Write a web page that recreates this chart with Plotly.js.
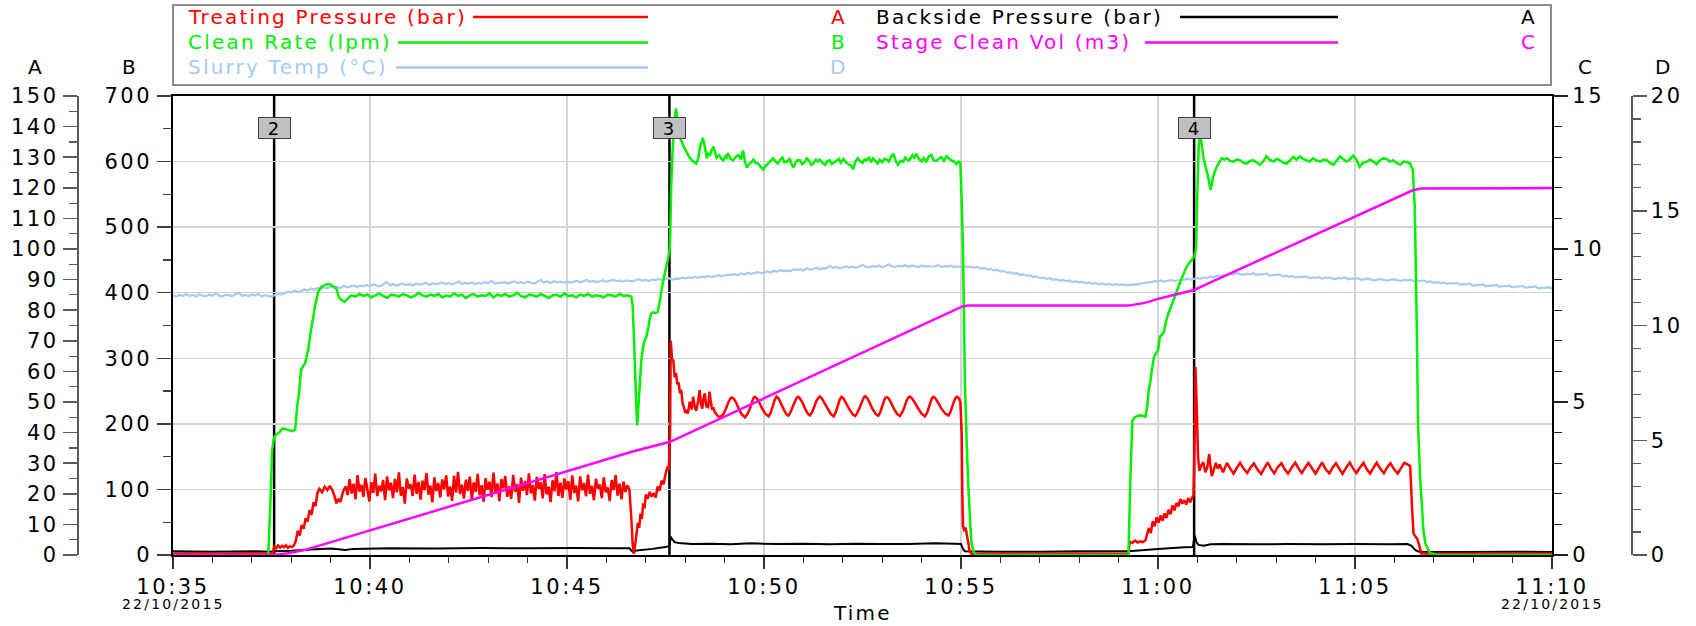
<!DOCTYPE html>
<html>
<head>
<meta charset="utf-8">
<script src="https://cdn.plot.ly/plotly-3.0.1.min.js"></script>
<style>
  html, body { margin: 0; padding: 0; background: #ffffff; }
  #chart { width: 1696px; height: 626px; }
  .xtick text, .ytick text, .y2tick text, .y3tick text, .y4tick text { letter-spacing: 2.6px; }
  .annotation-text { letter-spacing: 2.2px; }
</style>
</head>
<body>
<div id="chart"></div>
<script>
// ---- Time axis (seconds after 10:35:00, 22/10/2015) ----
const timeTickLabels = ['10:35', '10:40', '10:45', '10:50', '10:55', '11:00', '11:05', '11:10'];
const timeTickMinutes = [0, 5, 10, 15, 20, 25, 30, 35];
const logDate = '22/10/2015';

// Stage change markers: [seconds, stage label]
const stageMarkers = [[154, '2'], [756, '3'], [1555, '4']];

// Treating Pressure (bar) -> axis A   [seconds, bar]
const treatingPressure = [
  [0,0.5],[40,0.6],[80,0.5],[120,0.6],[152,0.5],
  [154,2.9],[157,2.2],[160,3.1],[163,2.4],[166,3.0],[169,2.5],[172,3.2],[175,2.3],[178,2.9],[181,2.6],[184,3.1],
  [187,4.6],[190,7.9],[193,6.4],[196,9.8],[199,8.6],[202,12.0],[205,10.9],[208,14.6],[211,13.1],[214,17.2],[217,16.0],
  [220,20.4],[223,21.6],[227,20.5],[231,22.3],[235,21.2],[239,22.6],[243,21.0],[246,19.2],[249,16.9],[252,18.4],[255,17.3],[259,20.8],
  [263,22.4],[266,19.6],[269,24.8],[272,20.1],[275,23.3],[278,18.2],[281,26.1],[284,20.7],[287,22.9],[290,19.0],
  [293,25.2],[296,21.4],[299,17.5],[302,23.8],[305,20.3],[308,26.6],[311,19.2],[314,22.6],[317,20.8],[320,24.5],
  [323,17.9],[326,25.7],[329,21.1],[332,23.6],[335,18.6],[338,24.9],[341,20.5],[344,27.0],[347,19.4],[350,22.2],
  [353,16.8],[356,25.0],[359,21.7],[362,23.1],[365,19.3],[368,26.3],[371,20.0],[374,23.9],[377,18.1],[380,24.3],
  [383,21.2],[386,26.8],[389,19.7],[392,22.7],[395,17.2],[398,25.4],[401,20.9],[404,23.5],[407,18.8],[410,24.7],
  [413,21.5],[416,26.0],[419,19.1],[422,22.4],[425,17.7],[428,25.9],[431,20.4],[434,27.2],[437,19.9],[440,23.0],
  [443,18.4],[446,24.6],[449,21.0],[452,25.6],[455,18.0],[458,23.7],[461,20.6],[464,26.5],[467,19.5],[470,22.8],
  [473,17.4],[476,25.1],[479,21.3],[482,24.0],[485,18.9],[488,26.9],[491,20.2],[494,23.4],[497,17.6],[500,24.8],
  [503,21.8],[506,25.8],[509,19.0],[512,22.5],[515,18.3],[518,26.2],[521,20.7],[524,23.2],[527,17.0],[530,25.3],
  [533,21.0],[536,24.2],[539,19.6],[542,26.7],[545,20.1],[548,22.9],[551,17.8],[554,25.5],[557,21.6],[560,23.8],
  [563,18.5],[566,26.4],[569,19.8],[572,22.3],[575,17.3],[578,24.4],[581,20.8],[584,27.1],[587,19.3],[590,23.6],
  [593,18.7],[596,25.0],[599,21.4],[602,24.1],[605,18.0],[608,26.0],[611,20.3],[614,22.7],[617,17.5],[620,25.7],
  [623,21.1],[626,23.5],[629,19.2],[632,26.3],[635,20.0],[638,22.6],[641,17.9],[644,24.9],[647,21.7],[650,23.0],
  [653,18.6],[656,25.4],[659,20.5],[662,22.1],[665,17.6],[668,24.5],[671,21.2],[674,26.1],[677,19.4],[680,23.3],
  [683,18.2],[686,24.0],[689,20.6],[692,22.8],[695,21.5],
  [698,12.0],[700,3.5],[702,0.4],[704,3.8],[706,7.2],[708,10.6],[710,8.9],[712,13.5],[714,11.8],[716,16.9],[718,15.2],
  [720,19.8],[723,18.4],[726,20.6],[729,19.1],[732,20.2],[735,18.8],[738,22.4],[741,21.0],[744,24.3],[747,23.1],
  [750,26.5],[753,28.9],[755,27.6],[757,40.0],[758,70.0],[760,64.0],[762,63.5],[764,58.0],[766,59.5],[768,55.8],
  [770,56.4],[772,52.8],[774,54.0],[776,49.5],[778,48.3],[780,46.5],[782,47.0],[784,46.2],[787,50.1],[790,47.6],
  [792,51.7],[795,48.0],[797,47.2],[800,50.6],[802,53.9],[804,49.4],[806,47.8],[808,51.5],[810,52.8],[812,48.6],
  [815,48.3],[817,53.4],[819,50.2],[821,47.5],[823,48.2],[825,46.6],[827,46.2],[830,45.3],
  [834,45.2],[838,46.0],[842,47.8],[846,50.0],[849,51.2],[851,51.5],[854,51.1],[858,49.6],[862,47.6],[866,46.0],[871,45.0],
  [875,46.1],[879,48.1],[882,50.2],[884,51.3],[886,51.7],[889,51.2],[893,49.8],[897,47.9],[902,46.2],[907,45.3],
  [910,46.4],[913,48.4],[916,50.5],[918,51.4],[919,51.8],[922,51.2],[926,49.5],[930,47.6],[934,46.0],[937,45.5],
  [940,46.5],[944,48.6],[948,50.6],[950,51.4],[952,51.7],[955,51.1],[959,49.6],[963,47.6],[967,46.1],[970,45.6],
  [973,46.6],[977,48.7],[980,50.5],[983,51.4],[985,51.8],[988,51.2],[992,49.7],[997,47.8],[1002,46.0],[1006,45.3],
  [1009,46.5],[1012,48.5],[1015,50.6],[1017,51.4],[1018,51.7],[1021,51.2],[1025,49.6],[1030,47.6],[1035,46.0],[1039,45.4],
  [1042,46.4],[1046,48.3],[1050,50.5],[1052,51.5],[1054,51.9],[1057,51.3],[1061,49.7],[1065,47.8],[1070,46.1],[1074,45.5],
  [1077,46.6],[1080,48.6],[1083,50.6],[1085,51.4],[1087,51.6],[1090,51.1],[1094,49.6],[1098,47.7],[1103,46.0],[1107,45.4],
  [1110,46.4],[1114,48.4],[1117,50.4],[1120,51.5],[1122,51.8],[1125,51.3],[1130,49.7],[1135,47.8],[1140,46.2],[1145,45.3],
  [1148,46.3],[1151,48.2],[1154,50.3],[1156,51.3],[1158,51.7],[1161,51.2],[1165,49.8],[1170,47.9],[1176,46.2],[1181,45.6],
  [1184,46.7],[1187,48.7],[1190,50.6],[1192,51.4],[1194,51.7],[1197,51.2],[1199,50.0],
  [1201,40.0],[1202,20.0],[1203,9.5],[1205,7.8],[1207,9.0],[1209,6.5],[1211,4.2],[1213,1.2],[1216,0.4],
  [1260,0.5],[1320,0.4],[1380,0.5],[1440,0.4],[1455,0.5],
  [1457,4.4],[1461,4.0],[1465,4.7],[1469,4.1],[1473,4.5],[1477,4.2],[1481,4.8],[1483,6.5],[1486,8.8],[1489,7.2],
  [1492,11.0],[1495,9.4],[1498,12.3],[1501,10.6],[1504,12.9],[1507,11.2],[1510,13.6],[1513,12.1],[1516,14.8],[1519,13.3],
  [1522,16.2],[1525,14.6],[1528,17.0],[1531,15.9],[1534,18.3],[1537,16.8],[1540,17.9],[1543,16.5],[1546,18.6],[1549,17.2],
  [1552,18.8],[1554,19.5],
  [1556,40.0],[1557,61.4],[1559,48.0],[1561,32.0],[1563,27.5],[1566,29.4],[1569,30.3],[1572,27.0],[1575,28.6],[1578,33.0],
  [1580,29.0],[1582,25.8],[1585,27.9],[1588,30.1],[1591,28.2],[1594,29.6],[1599,27.0],
  [1605,30.1],[1610,28.2],[1615,26.6],[1620,28.5],[1625,30.2],[1630,28.3],[1636,26.8],[1641,28.6],[1646,29.9],[1651,28.1],
  [1657,26.5],[1662,28.4],[1667,30.3],[1672,28.2],[1677,26.7],[1682,28.6],[1688,30.0],[1693,28.0],[1698,26.6],[1703,28.4],
  [1709,30.2],[1714,28.3],[1719,26.8],[1724,28.5],[1729,30.1],[1735,28.2],[1740,26.6],[1745,28.5],[1750,30.3],[1755,28.1],
  [1761,26.7],[1766,28.6],[1771,30.0],[1776,28.2],[1781,26.5],[1786,28.4],[1792,30.2],[1797,28.3],[1802,26.8],[1807,28.4],
  [1813,30.1],[1818,28.0],[1823,26.6],[1828,28.5],[1833,30.2],[1838,28.3],[1844,26.7],[1849,28.6],[1854,30.0],[1859,28.2],
  [1865,26.6],[1870,28.4],[1875,30.1],[1880,29.6],[1884,29.0],
  [1887,15.0],[1889,7.1],[1892,6.0],[1895,5.2],[1898,3.0],[1901,0.5],[1950,0.4],[2000,0.5],[2050,0.4],[2100,0.5]
];

// Backside Pressure (bar) -> axis A
const backsidePressure = [
  [0,1.2],[60,1.1],[120,1.2],[150,1.1],[156,1.2],[180,1.4],[210,1.8],[240,2.1],[252,1.9],[262,1.6],[275,2.0],
  [330,2.2],[400,2.1],[470,2.3],[540,2.2],[610,2.3],[680,2.2],[695,2.2],[700,1.0],[706,1.5],[730,2.0],[750,2.6],
  [756,2.9],[758,6.0],[760,5.2],[764,4.2],[770,3.9],[790,3.6],[820,3.7],[850,3.5],[880,3.8],[920,3.6],[960,3.7],
  [1000,3.5],[1040,3.7],[1080,3.6],[1120,3.6],[1160,3.8],[1190,3.7],[1200,3.6],[1203,2.0],[1206,1.2],[1260,1.1],
  [1320,1.1],[1380,1.2],[1455,1.2],[1460,1.3],[1500,2.0],[1540,2.5],[1553,2.6],[1556,6.4],[1559,4.0],[1562,3.3],
  [1570,3.0],[1580,3.5],[1600,3.6],[1650,3.5],[1700,3.6],[1750,3.5],[1800,3.6],[1850,3.5],[1880,3.6],[1886,3.0],
  [1892,1.6],[1898,1.1],[1960,1.0],[2040,1.1],[2100,1.0]
];

// Clean Rate (lpm) -> axis B
const cleanRate = [
  [0,0],[60,0],[120,0],[145,0],[148,70],[151,160],[154,180],[158,184],[162,187],[167,193],[172,192],[177,190],
  [182,189],[186,191],[189,226],[192,247],[195,282],[198,288],[201,292],[204,305],[206,313],[209,335],[211,348],
  [214,365],[216,379],[219,392],[221,402],[224,406],[226,409],[230,411],[234,413],[239,413],[243,410],[246,409],
  [249,406],[251,398],[254,391],[257,389],[261,386],[265,390],[269,394],
  [272,396],[278,394],[284,398],[290,395],[296,397],[302,393],[308,396],[314,399],[320,395],[326,392],[332,397],
  [338,396],[344,394],[350,398],[356,396],[362,393],[368,395],[374,400],[380,396],[386,394],[392,397],[398,395],
  [404,398],[410,393],[416,396],[422,394],[428,399],[434,395],[440,397],[446,392],[452,396],[458,398],[464,394],
  [470,396],[476,395],[482,399],[488,393],[494,397],[500,395],[506,398],[512,394],[518,396],[524,400],[530,395],
  [536,393],[542,397],[548,396],[554,394],[560,398],[566,395],[572,392],[578,396],[584,397],[590,394],[596,399],
  [602,395],[608,396],[614,393],[620,397],[626,395],[632,398],[638,394],[644,396],[650,395],[656,393],[662,397],
  [668,396],[674,394],[680,398],[686,395],[692,396],[698,394],
  [700,380],[702,330],[704,270],[706,215],[707,198],[709,232],[711,262],[713,295],[716,318],[718,326],[721,333],
  [724,348],[726,360],[728,368],[731,370],[735,369],[738,370],[741,385],[744,404],[747,420],[750,435],[753,448],
  [756,462],[757,480],[758,530],[759,572],[761,620],[763,655],[766,681],[769,660],[772,636],[775,630],[778,622],
  [782,615],[786,607],[790,602],[794,599],[797,597],[800,605],[803,624],[805,630],[807,636],[810,622],[813,605],
  [815,612],[818,610],[820,617],[823,623],[826,612],[828,606],[832,610],[835,604],[838,602],[841,608],[843,606],
  [845,613],[849,604],[853,602],[857,607],[861,610],[865,603],[868,617],[871,600],[874,591],[878,597],[881,599],
  [884,603],[887,598],[891,597],[895,592],[899,588],[903,594],[906,597],[910,601],[914,605],[918,600],[921,597],
  [924,602],[928,606],[931,599],[935,600],[939,604],[942,596],[945,591],[948,598],[951,602],[955,602],[958,596],
  [962,599],[965,605],[969,601],[972,595],[975,597],[979,603],[982,600],[985,603],[989,598],[993,595],[996,600],
  [1000,602],[1003,596],[1007,599],[1010,601],[1014,604],[1017,598],[1021,604],[1024,600],[1027,597],[1031,595],
  [1034,592],[1036,588],[1039,600],[1043,605],[1046,601],[1050,598],[1053,603],[1056,602],[1060,606],[1063,599],
  [1066,605],[1070,601],[1073,596],[1076,603],[1080,599],[1083,604],[1087,603],[1090,600],[1094,608],[1097,612],
  [1101,600],[1104,595],[1108,601],[1112,600],[1115,606],[1119,602],[1122,603],[1126,610],[1129,606],[1132,612],
  [1136,604],[1140,600],[1143,605],[1147,600],[1151,608],[1155,610],[1158,602],[1162,601],[1166,604],[1170,607],
  [1174,601],[1178,608],[1182,604],[1186,602],[1190,599],[1193,596],[1196,600],[1199,598],
  [1201,540],[1203,465],[1206,262],[1209,160],[1211,109],[1214,50],[1216,18],[1219,5],[1223,0],[1300,0],[1380,0],[1455,0],
  [1458,120],[1461,205],[1465,210],[1469,212],[1473,213],[1477,212],[1481,211],[1484,230],[1486,252],[1488,262],
  [1491,285],[1494,302],[1497,308],[1500,312],[1503,333],[1506,336],[1509,340],[1512,355],[1515,366],[1518,374],
  [1521,382],[1524,390],[1527,397],[1530,406],[1533,414],[1537,424],[1541,434],[1545,442],[1549,447],[1553,452],
  [1556,457],[1558,470],[1560,555],[1562,625],[1564,638],[1566,630],[1569,607],[1572,594],[1575,582],[1578,568],
  [1580,557],[1582,566],[1584,577],[1587,586],[1590,593],[1594,600],[1597,605],[1601,603],[1605,605],[1610,601],
  [1615,600],[1620,603],[1625,602],[1630,598],[1635,597],[1640,601],[1645,602],[1650,599],[1655,595],[1660,600],
  [1665,608],[1670,603],[1676,600],[1681,604],[1686,602],[1691,598],[1696,597],[1701,602],[1706,607],[1711,603],
  [1716,608],[1721,604],[1726,602],[1731,600],[1736,605],[1741,602],[1747,600],[1752,603],[1757,602],[1762,598],
  [1767,595],[1772,601],[1777,608],[1782,604],[1787,600],[1792,603],[1797,609],[1802,603],[1807,592],[1812,598],
  [1818,600],[1823,603],[1828,600],[1833,596],[1838,602],[1843,605],[1848,604],[1853,600],[1858,602],[1863,598],
  [1869,595],[1874,600],[1879,599],[1884,597],
  [1888,587],[1891,531],[1894,353],[1896,201],[1899,120],[1902,74],[1904,40],[1907,18],[1914,3],[1925,0],[2000,0],[2100,0]
];

// Stage Clean Vol (m3) -> axis C
const stageCleanVol = [
  [0,0],[154,0],[175,0.06],[200,0.16],[700,3.38],[757,3.70],[1203,8.13],[1212,8.15],[1455,8.15],[1480,8.24],
  [1500,8.37],[1530,8.53],[1555,8.66],[1575,8.86],[1888,11.92],[1900,11.98],[2100,11.99]
];

// Slurry Temp (°C) -> axis D
const slurryTemp = [
  [0,11.31],[5,11.25],[10,11.34],[15,11.28],[20,11.37],[25,11.29],[30,11.33],[35,11.26],[40,11.36],[45,11.30],
  [50,11.27],[55,11.35],[60,11.29],[65,11.41],[70,11.30],[75,11.26],[80,11.34],[85,11.31],[90,11.28],[95,11.36],
  [100,11.43],[105,11.29],[110,11.33],[115,11.27],[120,11.35],[125,11.30],[130,11.38],[135,11.26],[140,11.32],[145,11.29],
  [150,11.25],[155,11.33],[160,11.38],[165,11.35],[170,11.42],[175,11.47],[180,11.44],[185,11.52],[190,11.46],[195,11.50],
  [200,11.57],[205,11.52],[210,11.61],[215,11.56],[220,11.64],[225,11.60],[230,11.66],[235,11.62],[240,11.70],[245,11.64],
  [250,11.68],[255,11.63],[260,11.73],[265,11.66],[270,11.70],[275,11.75],[280,11.68],[285,11.74],[290,11.71],[295,11.77],
  [300,11.72],[305,11.79],[310,11.74],[315,11.70],[320,11.78],[325,11.90],[330,11.75],[335,11.81],[340,11.73],[345,11.79],
  [350,11.82],[355,11.76],[360,11.80],[365,11.74],[370,11.83],[375,11.78],[380,11.81],[385,11.86],[390,11.77],[395,11.84],
  [400,11.79],[405,11.83],[410,11.88],[415,11.80],[420,11.85],[425,11.78],[430,11.84],[435,11.92],[440,11.81],[445,11.86],
  [450,11.83],[455,11.88],[460,11.80],[465,11.86],[470,11.82],[475,11.89],[480,11.84],[485,11.95],[490,11.83],[495,11.87],
  [500,11.85],[505,11.90],[510,11.83],[515,11.88],[520,11.92],[525,11.85],[530,11.89],[535,11.84],[540,11.91],[545,11.86],
  [550,11.83],[555,11.90],[560,11.99],[565,11.87],[570,11.92],[575,11.85],[580,11.93],[585,11.88],[590,11.91],[595,11.86],
  [600,11.92],[605,11.87],[610,11.90],[615,11.95],[620,11.88],[625,11.93],[630,11.98],[635,11.90],[640,11.94],[645,11.89],
  [650,11.92],[655,11.97],[660,11.90],[665,11.95],[670,12.00],[675,11.93],[680,11.96],[685,11.91],[690,11.97],[695,11.94],
  [700,11.93],[705,11.98],[710,12.02],[715,11.95],[720,11.99],[725,11.94],[730,12.01],[735,11.97],[740,12.03],[745,11.98],
  [750,12.02],[755,12.06],[760,12.00],[765,12.04],[770,12.03],[775,12.08],[780,12.05],[785,12.10],[790,12.07],[795,12.12],
  [800,12.08],[805,12.13],[810,12.11],[815,12.16],[820,12.12],[825,12.14],[830,12.19],[835,12.15],[840,12.18],[845,12.22],
  [850,12.20],[855,12.24],[860,12.19],[865,12.27],[870,12.23],[875,12.29],[880,12.25],[885,12.28],[890,12.33],[895,12.29],
  [900,12.30],[905,12.36],[910,12.32],[915,12.38],[920,12.35],[925,12.41],[930,12.37],[935,12.40],[940,12.36],[945,12.44],
  [950,12.41],[955,12.46],[960,12.40],[965,12.49],[970,12.43],[975,12.47],[980,12.52],[985,12.45],[990,12.50],[995,12.48],
  [1000,12.60],[1005,12.51],[1010,12.55],[1015,12.49],[1020,12.53],[1025,12.58],[1030,12.52],[1035,12.56],[1040,12.51],[1045,12.57],
  [1050,12.64],[1055,12.55],[1060,12.53],[1065,12.59],[1070,12.56],[1075,12.62],[1080,12.54],[1085,12.58],[1090,12.66],[1095,12.57],
  [1100,12.55],[1105,12.60],[1110,12.58],[1115,12.63],[1120,12.56],[1125,12.61],[1130,12.59],[1135,12.55],[1140,12.62],[1145,12.57],
  [1150,12.60],[1155,12.56],[1160,12.58],[1165,12.63],[1170,12.55],[1175,12.59],[1180,12.57],[1185,12.61],[1190,12.54],[1195,12.58],
  [1200,12.56],[1205,12.59],[1210,12.54],[1215,12.57],[1220,12.52],[1225,12.55],[1230,12.48],[1235,12.51],[1240,12.44],[1245,12.47],
  [1250,12.40],[1255,12.42],[1260,12.35],[1265,12.38],[1270,12.30],[1275,12.32],[1280,12.26],[1285,12.28],[1290,12.20],[1295,12.23],
  [1300,12.16],[1305,12.19],[1310,12.11],[1315,12.13],[1320,12.06],[1325,12.09],[1330,12.03],[1335,12.06],[1340,11.99],[1345,12.02],
  [1350,11.96],[1355,11.99],[1360,11.93],[1365,11.96],[1370,11.89],[1375,11.92],[1380,11.88],[1385,11.90],[1390,11.85],[1395,11.87],
  [1400,11.82],[1405,11.85],[1410,11.79],[1415,11.83],[1420,11.78],[1425,11.81],[1430,11.76],[1435,11.80],[1440,11.77],[1445,11.79],
  [1450,11.75],[1455,11.78],[1460,11.76],[1465,11.80],[1470,11.79],[1475,11.84],[1480,11.85],[1485,11.89],[1490,11.88],[1495,11.93],
  [1500,11.92],[1505,11.96],[1510,11.91],[1515,11.95],[1520,11.98],[1525,11.94],[1530,11.97],[1535,12.02],[1540,11.99],[1545,12.04],
  [1550,12.00],[1555,12.03],[1560,12.06],[1565,12.04],[1570,12.09],[1575,12.07],[1580,12.13],[1585,12.10],[1590,12.17],[1595,12.15],
  [1600,12.21],[1605,12.18],[1610,12.25],[1615,12.22],[1620,12.29],[1625,12.24],[1630,12.21],[1635,12.26],[1640,12.23],[1645,12.28],
  [1650,12.20],[1655,12.24],[1660,12.22],[1665,12.27],[1670,12.17],[1675,12.21],[1680,12.19],[1685,12.23],[1690,12.14],[1695,12.17],
  [1700,12.12],[1705,12.16],[1710,12.09],[1715,12.13],[1720,12.11],[1725,12.15],[1730,12.06],[1735,12.10],[1740,12.07],[1745,12.11],
  [1750,12.04],[1755,12.08],[1760,12.09],[1765,12.05],[1770,12.02],[1775,12.07],[1780,12.05],[1785,12.09],[1790,12.01],[1795,12.05],
  [1800,12.03],[1805,12.06],[1810,11.98],[1815,12.02],[1820,12.04],[1825,12.00],[1830,11.97],[1835,12.01],[1840,12.02],[1845,11.98],
  [1850,11.96],[1855,12.00],[1860,12.01],[1865,11.97],[1870,11.95],[1875,11.99],[1880,11.97],[1885,12.00],[1890,11.92],[1895,11.96],
  [1900,11.94],[1905,11.97],[1910,11.89],[1915,11.92],[1920,11.86],[1925,11.89],[1930,11.84],[1935,11.87],[1940,11.81],[1945,11.85],
  [1950,11.83],[1955,11.86],[1960,11.77],[1965,11.81],[1970,11.79],[1975,11.82],[1980,11.73],[1985,11.77],[1990,11.76],[1995,11.79],
  [2000,11.71],[2005,11.75],[2010,11.74],[2015,11.77],[2020,11.68],[2025,11.72],[2030,11.71],[2035,11.74],[2040,11.66],[2045,11.70],
  [2050,11.70],[2055,11.73],[2060,11.64],[2065,11.68],[2070,11.67],[2075,11.70],[2080,11.61],[2085,11.65],[2090,11.64],[2095,11.67],
  [2100,11.60]
];

// ---- Series styling and legend entries ----
const COLORS = { treating: '#ff0000', clean: '#00f000', slurry: '#a6caf0', backside: '#000000', vol: '#ff00ff' };
const FONT = 'DejaVu Sans';

// Figure geometry (pixels) -> paper fractions
const W = 1696, H = 626;
const px = v => v / W;
const py = v => 1 - v / H;
const PLOT = { left: 173, right: 1552, top: 96, bottom: 555 };

const toMin = pairs => pairs.map(p => p[0] / 60);
const vals = pairs => pairs.map(p => p[1]);

function series(pairs, name, color, width, axis) {
  return {
    type: 'scatter', mode: 'lines', name: name,
    x: toMin(pairs), y: vals(pairs), yaxis: axis,
    line: { color: color, width: width, simplify: false },
    hoverinfo: 'skip'
  };
}

// Drawing order: temperature underneath, volume on top
const traces = [
  series(slurryTemp, 'Slurry Temp (°C)', COLORS.slurry, 2.2, 'y'),
  series(backsidePressure, 'Backside Pressure (bar)', COLORS.backside, 2, 'y2'),
  series(treatingPressure, 'Treating Pressure (bar)', COLORS.treating, 2.5, 'y2'),
  series(cleanRate, 'Clean Rate (lpm)', COLORS.clean, 2.5, 'y3'),
  series(stageCleanVol, 'Stage Clean Vol (m3)', COLORS.vol, 2.5, 'y4')
];

const tickFont = { family: FONT, size: 21, color: '#000000' };

function valueAxis(opts) {
  return Object.assign({
    tickmode: 'linear', tick0: 0, ticks: 'outside', ticklen: 14, tickwidth: 1.5,
    showline: true, zeroline: false, showgrid: false, fixedrange: true,
    tickfont: tickFont
  }, opts);
}

const layout = {
  width: W, height: H,
  margin: { l: 0, r: 0, t: 0, b: 0 },
  paper_bgcolor: '#ffffff', plot_bgcolor: '#ffffff',
  showlegend: false,
  font: { family: FONT, color: '#000000' },
  xaxis: {
    domain: [px(PLOT.left), px(PLOT.right)], range: [0, 35], anchor: 'y',
    tickmode: 'array', tickvals: timeTickMinutes, ticktext: timeTickLabels,
    ticks: 'outside', ticklen: 12, tickwidth: 1.5, tickcolor: '#333333',
    showline: true, linecolor: '#000000', linewidth: 2, mirror: true,
    showgrid: true, gridcolor: '#d4d4d4', gridwidth: 1.5, zeroline: false,
    tickfont: tickFont, fixedrange: true,
    minor: { tickmode: 'linear', tick0: 0, dtick: 1, ticks: 'outside', ticklen: 6, tickwidth: 1.2, tickcolor: '#333333', showgrid: false }
  },
  // D: slurry temperature
  yaxis: valueAxis({
    domain: [py(PLOT.bottom), py(PLOT.top)], range: [0, 20], dtick: 5,
    anchor: 'free', position: px(1631), side: 'right',
    linecolor: '#5a5a5a', linewidth: 1.5, tickcolor: '#5a5a5a',
    minor: { dtick: 1, ticks: 'outside', ticklen: 8, tickwidth: 1.2, tickcolor: '#5a5a5a' }
  }),
  // A: pressures
  yaxis2: valueAxis({
    overlaying: 'y', range: [0, 150], dtick: 10,
    anchor: 'free', position: px(77), side: 'left',
    linecolor: '#5a5a5a', linewidth: 1.5, tickcolor: '#5a5a5a',
    minor: { dtick: 5, ticks: 'outside', ticklen: 8, tickwidth: 1.2, tickcolor: '#5a5a5a' }
  }),
  // B: clean rate (carries the horizontal grid)
  yaxis3: valueAxis({
    overlaying: 'y', range: [0, 700], dtick: 100,
    anchor: 'x', side: 'left',
    linecolor: '#000000', linewidth: 2.5, tickcolor: '#404040',
    showgrid: true, gridcolor: '#d4d4d4', gridwidth: 1.3,
    minor: { dtick: 50, ticks: 'outside', ticklen: 8, tickwidth: 1.2, tickcolor: '#404040', showgrid: false }
  }),
  // C: stage volume
  yaxis4: valueAxis({
    overlaying: 'y', range: [0, 15], dtick: 5,
    anchor: 'x', side: 'right',
    linecolor: '#000000', linewidth: 2, tickcolor: '#202020',
    minor: { dtick: 1, ticks: 'outside', ticklen: 8, tickwidth: 1.2, tickcolor: '#202020' }
  }),
  shapes: [],
  annotations: []
};

// Stage markers: vertical lines with numbered boxes
stageMarkers.forEach(([sec, label]) => {
  layout.shapes.push({
    type: 'line', layer: 'between', xref: 'x', yref: 'paper',
    x0: sec / 60, x1: sec / 60, y0: py(PLOT.bottom), y1: py(PLOT.top),
    line: { color: '#000000', width: 2.5 }
  });
  layout.annotations.push({
    xref: 'x', yref: 'paper', x: sec / 60, y: py(128),
    xanchor: 'center', yanchor: 'middle', showarrow: false,
    text: label, font: { family: FONT, size: 18, color: '#000000' },
    bgcolor: '#c0c0c0', bordercolor: '#404040', borderwidth: 1, borderpad: 0,
    width: 31, height: 20
  });
});

// Legend panel above the plot
layout.shapes.push({
  type: 'rect', xref: 'paper', yref: 'paper',
  x0: px(173), x1: px(1551), y0: py(85), y1: py(5),
  line: { color: '#8c8c8c', width: 2 }, fillcolor: '#ffffff', layer: 'above'
});

const legendRows = [
  { text: 'Treating Pressure (bar)', color: COLORS.treating, x: 186, y: 17,   lineFrom: 473,  lineTo: 648,  axis: 'A', axisX: 839 },
  { text: 'Clean Rate (lpm)',        color: COLORS.clean,    x: 186, y: 42.5, lineFrom: 398,  lineTo: 648,  axis: 'B', axisX: 839 },
  { text: 'Slurry Temp (°C)',        color: COLORS.slurry,   x: 186, y: 67.5, lineFrom: 396,  lineTo: 648,  axis: 'D', axisX: 839 },
  { text: 'Backside Pressure (bar)', color: COLORS.backside, x: 874, y: 17,   lineFrom: 1180, lineTo: 1338, axis: 'A', axisX: 1529 },
  { text: 'Stage Clean Vol (m3)',    color: COLORS.vol,      x: 874, y: 42.5, lineFrom: 1145, lineTo: 1338, axis: 'C', axisX: 1529 }
];

legendRows.forEach(r => {
  layout.annotations.push({
    xref: 'paper', yref: 'paper', x: px(r.x), y: py(r.y),
    xanchor: 'left', yanchor: 'middle', showarrow: false,
    text: r.text, font: { family: FONT, size: 20, color: r.color }
  });
  layout.annotations.push({
    xref: 'paper', yref: 'paper', x: px(r.axisX), y: py(r.y),
    xanchor: 'center', yanchor: 'middle', showarrow: false,
    text: r.axis, font: { family: FONT, size: 20, color: r.color }
  });
  layout.shapes.push({
    type: 'line', xref: 'paper', yref: 'paper',
    x0: px(r.lineFrom), x1: px(r.lineTo), y0: py(r.y), y1: py(r.y),
    line: { color: r.color, width: 2.5 }, layer: 'above'
  });
});

// Axis identifiers above each value axis
[['A', 36], ['B', 130], ['C', 1586], ['D', 1664]].forEach(([t, x]) => {
  layout.annotations.push({
    xref: 'paper', yref: 'paper', x: px(x), y: py(67),
    xanchor: 'center', yanchor: 'middle', showarrow: false,
    text: t, font: { family: FONT, size: 20, color: '#000000' }
  });
});

// Date under the first and last time ticks
[timeTickMinutes[0], timeTickMinutes[timeTickMinutes.length - 1]].forEach(m => {
  layout.annotations.push({
    xref: 'x', yref: 'paper', x: m, y: py(594),
    xanchor: 'center', yanchor: 'top', showarrow: false,
    text: logDate, font: { family: FONT, size: 14, color: '#000000' }
  });
});

// Time axis title
layout.annotations.push({
  xref: 'paper', yref: 'paper', x: px(862), y: py(613),
  xanchor: 'center', yanchor: 'middle', showarrow: false,
  text: 'Time', font: { family: FONT, size: 20, color: '#000000' }
});

Plotly.newPlot('chart', traces, layout, { staticPlot: true, displayModeBar: false });
</script>
</body>
</html>
